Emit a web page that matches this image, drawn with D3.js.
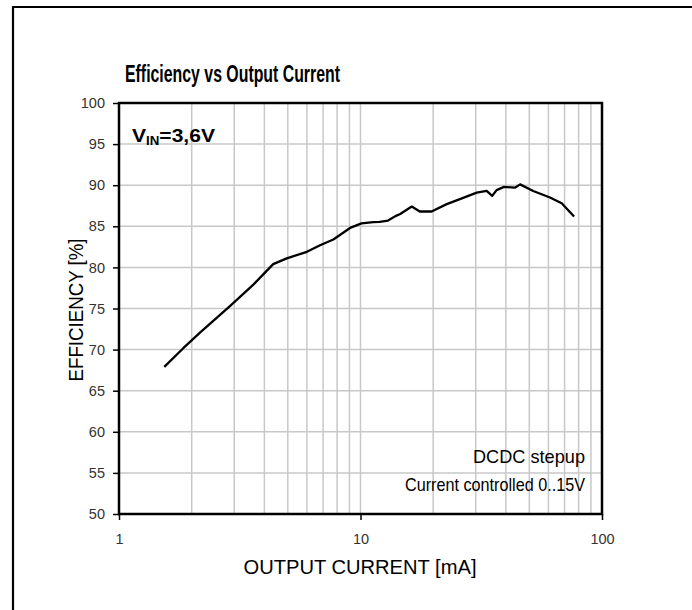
<!DOCTYPE html>
<html>
<head>
<meta charset="utf-8">
<script src="https://cdn.jsdelivr.net/npm/d3@7"></script>
<style>
  body { margin: 0; background: #fff; }
  svg { display: block; font-family: "Liberation Sans Narrow", "Arial Narrow", "Liberation Sans", Arial, sans-serif; }
</style>
</head>
<body>
<svg id="chart" width="692" height="610"></svg>
<script>
var currentMA = [1.54, 1.85, 2.17, 2.88, 3.6, 4.35, 4.95, 6.0, 6.8, 7.72, 9.05, 10.1, 11.3, 12.0, 13.0, 14.1, 14.6, 16.3, 17.6, 19.7, 22.75, 25.8, 30.3, 33.3, 35.1, 36.6, 39.3, 43.6, 45.8, 51.9, 60.9, 68.1, 76.6];
var efficiency = [67.9, 70.2, 72.1, 75.3, 77.9, 80.4, 81.1, 81.9, 82.7, 83.4, 84.8, 85.35, 85.5, 85.55, 85.7, 86.3, 86.5, 87.4, 86.8, 86.8, 87.7, 88.3, 89.1, 89.3, 88.7, 89.4, 89.8, 89.7, 90.1, 89.3, 88.5, 87.8, 86.2];

var xTicks = [1, 10, 100];
var xGrid = [2, 3, 4, 5, 6, 7, 8, 9, 10, 20, 30, 40, 50, 60, 70, 80, 90];
var yTicks = [50, 55, 60, 65, 70, 75, 80, 85, 90, 95, 100];

var svg = d3.select("#chart");
var plotL = 119, plotR = 602, plotT = 103, plotB = 514;

var x = d3.scaleLog().domain([1, 100]).range([plotL, plotR]);
var y = d3.scaleLinear().domain([50, 100]).range([plotB, plotT]);

// outer frame (left and top only)
svg.append("path")
	.attr("d", "M13,610 L13,7 L692,7")
	.attr("fill", "none")
	.attr("stroke", "#000")
	.attr("stroke-width", 2.2);

// grid
svg.append("g").selectAll("line").data(xGrid).join("line")
	.attr("x1", d => x(d)).attr("x2", d => x(d))
	.attr("y1", plotT).attr("y2", plotB)
	.attr("stroke", "#c8c8c8").attr("stroke-width", 1.5);
svg.append("g").selectAll("line").data(yTicks.slice(1, -1)).join("line")
	.attr("x1", plotL).attr("x2", plotR)
	.attr("y1", d => y(d)).attr("y2", d => y(d))
	.attr("stroke", "#c8c8c8").attr("stroke-width", 1.5);

// axes
var yAxis = svg.append("g")
	.attr("transform", "translate(" + plotL + ",0)")
	.call(d3.axisLeft(y).tickValues(yTicks).tickSize(6).tickPadding(8).tickFormat(d3.format("d")));
var xAxis = svg.append("g")
	.attr("transform", "translate(0," + plotB + ")")
	.call(d3.axisBottom(x).tickValues(xTicks).tickSize(6).tickPadding(14).tickFormat(d3.format("d")));
[yAxis, xAxis].forEach(function (a) {
	a.select(".domain").remove();
	a.selectAll(".tick line").attr("stroke", "#000").attr("stroke-width", 1.5);
	a.selectAll(".tick text")
		.attr("fill", "#333")
		.style("font-family", "'Liberation Sans', Arial, sans-serif")
		.style("font-size", "14.5px");
});

// plot border
svg.append("rect")
	.attr("x", plotL).attr("y", plotT)
	.attr("width", plotR - plotL).attr("height", plotB - plotT)
	.attr("fill", "none")
	.attr("stroke", "#000")
	.attr("stroke-width", 2.5);

// curve
var pts = currentMA.map(function (c, i) { return [c, efficiency[i]]; });
svg.append("path")
	.datum(pts)
	.attr("fill", "none")
	.attr("stroke", "#000")
	.attr("stroke-width", 2.3)
	.attr("stroke-linejoin", "round")
	.attr("d", d3.line().x(d => x(d[0])).y(d => y(d[1])));

// texts
svg.append("text")
	.attr("x", 125).attr("y", 82)
	.attr("font-size", 23.5).attr("font-weight", "bold")
	.attr("textLength", 215).attr("lengthAdjust", "spacingAndGlyphs")
	.text("Efficiency vs Output Current");

var vin = svg.append("text")
	.attr("x", 132).attr("y", 142)
	.attr("font-size", 19).attr("font-weight", "bold")
	.attr("textLength", 83).attr("lengthAdjust", "spacingAndGlyphs");
vin.append("tspan").text("V");
vin.append("tspan").attr("font-size", 12).attr("dy", 3).text("IN");
vin.append("tspan").attr("dy", -3).text("=3,6V");

svg.append("text")
	.attr("x", 585).attr("y", 463)
	.attr("text-anchor", "end")
	.attr("font-size", 19)
	.attr("textLength", 112).attr("lengthAdjust", "spacingAndGlyphs")
	.text("DCDC stepup");
svg.append("text")
	.attr("x", 585).attr("y", 491)
	.attr("text-anchor", "end")
	.attr("font-size", 19)
	.attr("textLength", 180).attr("lengthAdjust", "spacingAndGlyphs")
	.text("Current controlled 0..15V");

svg.append("text")
	.attr("x", 360).attr("y", 574)
	.attr("text-anchor", "middle")
	.attr("font-size", 21)
	.attr("textLength", 233).attr("lengthAdjust", "spacingAndGlyphs")
	.text("OUTPUT CURRENT [mA]");
svg.append("text")
	.attr("transform", "translate(83,310) rotate(-90)")
	.attr("text-anchor", "middle")
	.attr("font-size", 21)
	.attr("textLength", 143).attr("lengthAdjust", "spacingAndGlyphs")
	.text("EFFICIENCY [%]");
</script>
</body>
</html>
